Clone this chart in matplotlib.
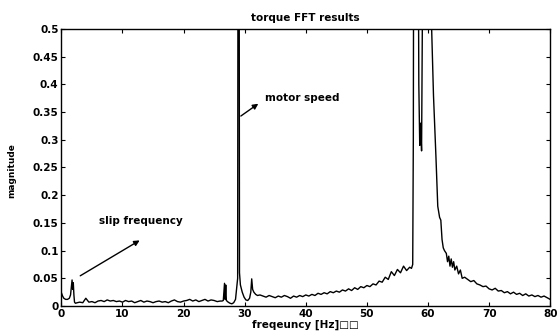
import numpy as np
import matplotlib
matplotlib.use('Agg')
import matplotlib.pyplot as plt

# low end, slip frequency peak
freq_a = [0.0, 0.2, 0.4, 0.7, 1.0, 1.3, 1.5, 1.65, 1.75, 1.85, 1.95, 2.05, 2.15, 2.3, 2.6, 3.0]
mag_a = [0.024, 0.018, 0.014, 0.012, 0.012, 0.014, 0.020, 0.036, 0.047, 0.030, 0.042, 0.020,
         0.007, 0.005, 0.006, 0.007]

# flat floor 3.5 .. 26 Hz (0.5 Hz bins)
freq_b = np.arange(3.5, 26.01, 0.5)
mag_b = [0.006, 0.014, 0.007, 0.008, 0.006, 0.009, 0.010, 0.008, 0.011, 0.009,
         0.010, 0.008, 0.009, 0.007, 0.010, 0.008, 0.009, 0.006, 0.008, 0.010,
         0.007, 0.009, 0.008, 0.006, 0.008, 0.009, 0.007, 0.008, 0.006, 0.009,
         0.011, 0.008, 0.007, 0.009, 0.010, 0.012, 0.009, 0.011, 0.008, 0.010,
         0.012, 0.009, 0.011, 0.010, 0.008, 0.009]

# around motor speed
freq_c = [26.3, 26.5, 26.7, 26.8, 26.9, 27.0, 27.3, 27.6, 27.9, 28.2, 28.5, 28.7, 28.85,
          28.95, 29.05, 29.15, 29.3, 29.6, 29.9, 30.2, 30.5, 30.8, 31.0, 31.15, 31.3, 31.5,
          31.8, 32.1, 32.5]
mag_c = [0.009, 0.010, 0.041, 0.012, 0.038, 0.010, 0.007, 0.005, 0.004, 0.006, 0.012, 0.034,
         0.050, 1.2, 1.2, 0.060, 0.038, 0.025, 0.016, 0.011, 0.010, 0.014, 0.025, 0.049, 0.030,
         0.025, 0.021, 0.019, 0.020]

# rising floor 33 .. 57 Hz
freq_d = np.arange(33.0, 57.01, 0.5)
mag_d = [0.018, 0.016, 0.019, 0.017, 0.015, 0.018, 0.016, 0.019, 0.017, 0.014,
         0.018, 0.016, 0.019, 0.017, 0.020, 0.018, 0.021, 0.019, 0.023, 0.021,
         0.024, 0.022, 0.026, 0.024, 0.027, 0.025, 0.029, 0.027, 0.031, 0.028,
         0.033, 0.030, 0.035, 0.033, 0.037, 0.035, 0.040, 0.038, 0.045, 0.043,
         0.052, 0.048, 0.062, 0.055, 0.066, 0.060, 0.072, 0.064, 0.070]

# supply frequency peak
freq_e = [57.3, 57.5, 57.6, 57.7, 57.85, 57.95, 58.1, 58.3, 58.5, 58.65, 58.8, 58.95, 59.1,
          59.3, 59.8, 60.4, 60.6, 60.9, 61.3, 61.6, 61.9, 62.1, 62.3, 62.5, 62.7]
mag_e = [0.068, 0.075, 0.30, 1.0, 0.60, 1.0, 0.70, 1.0, 0.40, 0.29, 0.33, 0.28, 0.55,
         1.0, 1.0, 1.0, 0.50, 0.38, 0.27, 0.18, 0.160, 0.155, 0.120, 0.105, 0.100]

# decay above 63 Hz
freq_f = [63.0, 63.2, 63.4, 63.6, 63.8, 64.0, 64.2, 64.4, 64.7, 65.0, 65.3, 65.6, 66.0]
mag_f = [0.095, 0.080, 0.090, 0.072, 0.085, 0.070, 0.080, 0.065, 0.072, 0.058, 0.065, 0.050,
         0.052]
freq_g = np.arange(66.5, 80.01, 0.5)
mag_g = [0.048, 0.044, 0.046, 0.040, 0.038, 0.035, 0.036, 0.031, 0.029, 0.032,
         0.027, 0.028, 0.024, 0.026, 0.022, 0.025, 0.021, 0.023, 0.019, 0.022,
         0.018, 0.020, 0.017, 0.019, 0.016, 0.018, 0.015, 0.012]

freq = np.concatenate([freq_a, freq_b, freq_c, freq_d, freq_e, freq_f, freq_g])
mag = np.concatenate([mag_a, mag_b, mag_c, mag_d, mag_e, mag_f, mag_g])

plt.rcParams['font.family'] = ['DejaVu Sans']
plt.rcParams['font.weight'] = 'bold'

fig = plt.figure(figsize=(5.58, 3.33), dpi=100)
ax = fig.add_axes([0.110, 0.081, 0.876, 0.832])
ax.plot(freq, mag, color='black', lw=1.0)
ax.set_xlim(0, 80)
ax.set_ylim(0, 0.5)
ax.set_xticks(range(0, 81, 10))
ax.set_yticks(np.arange(0, 0.501, 0.05))
ax.set_yticklabels(['0', '0.05', '0.1', '0.15', '0.2', '0.25', '0.3', '0.35', '0.4', '0.45', '0.5'])
ax.tick_params(direction='in', top=True, right=True, length=3, labelsize=7.5, pad=2)
for s in ax.spines.values():
    s.set_linewidth(1.0)

ax.set_title('torque FFT results', fontsize=7.5, fontweight='bold', pad=6)
ax.set_xlabel('freqeuncy [Hz]\u25a1\u25a1', fontsize=7.5, fontweight='bold', labelpad=1)
ax.set_ylabel('magnitude', fontsize=6.5, fontweight='bold')
ax.yaxis.set_label_coords(-0.093, 0.49)

arrow = dict(arrowstyle='-|>', color='black', lw=1.0, mutation_scale=8)
ax.annotate('', xy=(32.6, 0.368), xytext=(29.0, 0.34), arrowprops=arrow)
ax.text(33.3, 0.375, 'motor speed', fontsize=7.5, fontweight='bold', va='center')
ax.annotate('', xy=(13.2, 0.121), xytext=(2.7, 0.052), arrowprops=arrow)
ax.text(6.1, 0.153, 'slip frequency', fontsize=7.5, fontweight='bold', va='center')

fig.savefig('out.png', dpi=100)
